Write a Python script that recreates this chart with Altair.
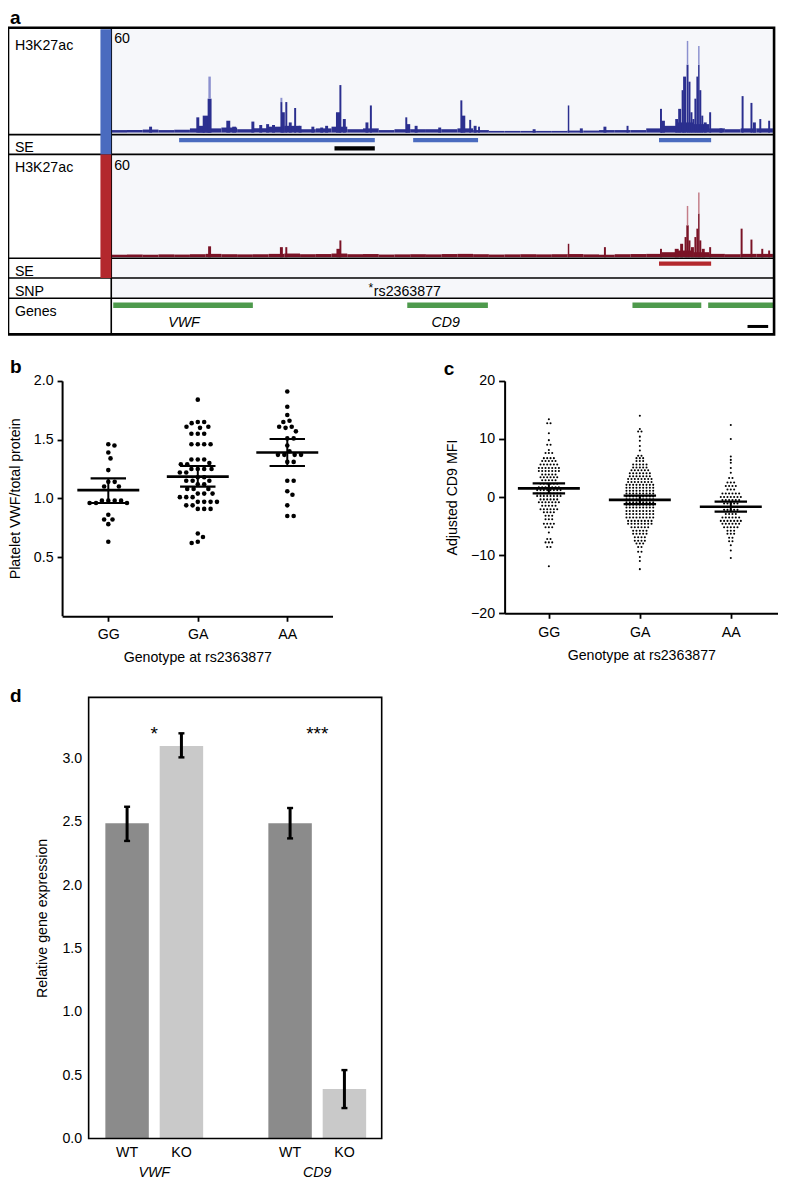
import altair as alt
import pandas as pd

# ---------------- layout helpers (reference pixels -> view pixels) ----------------
W, H = 770, 1172
SX = W / 783.0
SY = H / 1185.0


def X(rx):
    return (rx - 3.0) * SX


def Y(ry):
    return (ry - 5.0) * SY


FONT = "Liberation Sans"
FS = 14.2

# ================= panel a : data =================
TRACK_LEN = 674
BG_STEP = 16
BLUE_BG = [1.5, 1.6, 1.8, 1.5, 1.7, 2.5, 2.5, 3.0, 2.0, 2.5, 3.5, 4.0, 2.0, 2.5, 3.5,
           2.0, 2.5, 1.5, 2.0, 2.0, 2.0, 2.0, 2.5, 1.5, 1.0, 1.0, 1.0, 1.0, 1.0, 1.2,
           1.2, 1.5, 1.5, 1.5, 2.5, 4.0, 6.0, 5.0, 2.5, 2.0, 2.5, 2.5, 2.5]
RED_BG = [1.5, 1.6, 1.5, 1.7, 1.6, 1.8, 2.0, 1.8, 1.7, 1.8, 2.0, 2.2, 1.8, 1.9, 2.2,
          1.8, 1.9, 1.6, 1.7, 1.8, 1.7, 1.9, 2.0, 1.8, 1.6, 1.7, 1.8, 1.7, 1.8, 1.9,
          1.7, 1.5, 1.8, 1.9, 2.0, 3.0, 4.0, 3.0, 2.0, 1.8, 2.0, 2.0, 2.0]

BLUE_PEAK_POS = [40, 88, 92, 97, 100, 119, 125, 144, 152, 159, 165, 173, 175, 178, 182,
                 187, 192, 205, 214, 219, 231, 233, 237, 260, 264, 300, 302, 310, 334, 356,
                 358, 365, 370, 374, 430, 465, 478, 502, 525, 559, 561, 575, 578, 581, 583,
                 586, 588, 590, 592, 594, 596, 597.5, 599, 601, 604, 609, 620, 642, 651, 654,
                 660, 669]
BLUE_PEAK_H = [3.5, 9, 4, 10, 20, 7, 3.5, 6.5, 4.5, 5, 4.5, 18, 12, 18, 6,
               14.5, 4, 3.5, 3, 4, 12, 28, 8, 6, 16, 9, 5, 4, 3, 19,
               10, 7.5, 4, 3.5, 2, 16, 2.5, 3.5, 4, 14, 7, 8, 14, 25, 33,
               40, 30, 12, 8, 20, 33, 40, 25, 10, 6, 12, 2.5, 21.5, 17.5, 6,
               8, 7]
BLUE_PEAK_SPAN = [3, 3, 6, 8, 4, 4, 4, 3, 3, 3, 3, 2, 3, 2, 3,
                  2, 3, 3, 3, 3, 5, 2, 3, 3, 2, 2, 4, 3, 3, 2,
                  4, 2, 3, 2, 3, 1.5, 3, 3, 2, 2, 4, 3, 3, 2, 3,
                  2, 2, 2, 2, 2, 2, 1.5, 2, 2, 3, 2, 3, 2, 2, 3,
                  2, 2]
BLUE_CAP_POS = [100, 173, 586, 597.5]
BLUE_CAP_LO = [20, 18, 40, 40]
BLUE_CAP_HI = [33, 20.5, 54, 51]
BLUE_CAP_SPAN = [2.5, 2, 1.5, 1.5]

RED_PEAK_POS = [100, 173, 178, 231, 233, 465, 502, 559, 575, 580, 584, 586, 588, 591, 594,
                596, 597.5, 599, 602, 609, 641, 651, 662, 669]
RED_PEAK_H = [6.5, 6, 6, 5, 10, 8, 6, 5, 5, 8, 12, 19, 10, 6, 12,
              17, 26, 10, 5, 6, 17, 10.5, 5, 4]
RED_PEAK_SPAN = [3, 3, 2, 4, 2, 1.5, 2, 2, 4, 3, 2, 2.5, 2, 3, 2,
                 2, 1.5, 2, 3, 2, 2, 2, 2, 2]
RED_CAP_POS = [586, 597.5]
RED_CAP_LO = [19, 26]
RED_CAP_HI = [30.5, 38.5]
RED_CAP_SPAN = [1.5, 1.5]

SE_BLUE_START = [69, 307, 557]
SE_BLUE_END = [268, 373, 610]
SE_BLACK_START = [227]
SE_BLACK_END = [268]
SE_RED_START = [557]
SE_RED_END = [610]
GENE_START = [2, 301, 530, 607]
GENE_END = [144, 383, 600, 674]
GENE_LABELS = ["VWF", "CD9"]
GENE_LABEL_POS = [74, 340]
SNP_POS = [264]
SNP_ID = ["rs2363877"]
SCALE_BAR_START = [647]
SCALE_BAR_END = [668]

# ================= panel b : data =================
B_GROUPS = ["GG", "GA", "AA"]
B_GG = [1.46, 1.45, 1.39, 1.34, 1.24, 1.14, 1.14, 1.10, 1.10, 0.98, 0.98, 0.98, 0.98,
        0.96, 0.96, 0.96, 0.86, 0.82, 0.82, 0.78, 0.63]
B_GA = [1.84, 1.65, 1.65, 1.64, 1.61, 1.61, 1.60, 1.55, 1.55, 1.55, 1.46, 1.46, 1.46, 1.46,
        1.33, 1.33, 1.33, 1.30, 1.29, 1.29, 1.25, 1.25, 1.25, 1.25, 1.22, 1.22, 1.18, 1.18,
        1.15, 1.15, 1.15, 1.12, 1.12, 1.08, 1.08, 1.08, 1.04, 1.04, 1.04, 1.01, 1.01, 1.01,
        0.97, 0.97, 0.97, 0.97, 0.94, 0.94, 0.91, 0.91, 0.91, 0.70, 0.67, 0.63, 0.62]
B_AA = [1.91, 1.78, 1.71, 1.66, 1.65, 1.61, 1.61, 1.60, 1.57, 1.51, 1.51, 1.45, 1.40,
        1.37, 1.37, 1.37, 1.37, 1.31, 1.31, 1.15, 1.15, 1.06, 1.03, 0.94, 0.85, 0.85]
B_MEAN = [1.07, 1.185, 1.39]
B_SEM_LO = [0.96, 1.10, 1.275]
B_SEM_HI = [1.17, 1.275, 1.505]

# ================= panel c : data (dot rows: value, number of dots) =================
C_GG_ROWS = [13.4, 12.7, 11.0, 9.8, 9.0, 8.1, 7.6, 6.7, 6.2, 5.6, 5.0, 4.5, 3.9, 3.4, 2.9,
             2.3, 1.7, 1.2, 0.6, 0.2, -0.4, -0.9, -1.5, -2.1, -2.6, -3.2, -3.8, -4.6, -5.2,
             -6.1, -7.2, -7.8, -8.6, -11.9]
C_GG_COUNTS = [1, 2, 1, 1, 2, 1, 3, 4, 5, 6, 7, 7, 5, 6, 5, 6, 7, 8, 8, 8, 6, 7, 5, 6, 4,
               3, 3, 4, 3, 1, 2, 3, 2, 1]
C_GA_ROWS = [14.0, 11.7, 11.3, 10.4, 9.7, 8.8, 8.0, 7.1, 6.7, 6.2, 5.6, 5.1, 4.6, 4.1, 3.6,
             3.1, 2.6, 2.1, 1.6, 1.1, 0.6, 0.1, -0.4, -0.9, -1.3, -1.8, -2.4, -2.9, -3.5,
             -4.1, -4.6, -5.2, -5.8, -6.3, -6.9, -7.5, -8.0, -8.6, -9.4, -10.3, -11.0, -12.4]
C_GA_COUNTS = [1, 1, 2, 1, 1, 1, 1, 2, 3, 3, 5, 5, 6, 7, 7, 8, 8, 9, 9, 9, 9, 9, 9, 9,
               9, 9, 9, 9, 9, 8, 8, 6, 5, 5, 4, 4, 3, 2, 2, 1, 1, 1]
C_AA_ROWS = [12.4, 10.0, 7.0, 6.4, 5.9, 5.0, 4.2, 3.3, 2.5, 1.9, 1.3, 0.6, 0.0, -0.5, -1.1,
             -1.7, -2.2, -2.9, -3.5, -4.1, -4.6, -5.2, -5.8, -6.3, -7.0, -7.6, -8.3, -9.2, -10.5]
C_AA_COUNTS = [1, 1, 1, 1, 1, 1, 1, 2, 3, 4, 3, 6, 7, 6, 5, 4, 5, 4, 6, 7, 6, 5, 3, 3, 2, 2,
               1, 1, 1]
C_MEAN = [1.5, -0.48, -1.67]
C_SEM_LO = [0.65, -1.2, -2.5]
C_SEM_HI = [2.35, 0.25, -0.77]

# ================= panel d : data =================
D_SLOTS = ["VWF_WT", "VWF_KO", "gap_", "CD9_WT", "CD9_KO"]
D_BAR_SLOT = ["VWF_WT", "VWF_KO", "CD9_WT", "CD9_KO"]
D_BAR_GROUP = ["WT", "KO", "WT", "KO"]
D_MEAN = [2.49, 3.10, 2.49, 0.39]
D_ERR_LO = [2.35, 3.01, 2.37, 0.24]
D_ERR_HI = [2.62, 3.20, 2.61, 0.54]
D_GENES = ["VWF", "CD9"]
D_GENE_SLOT = ["VWF_WT", "CD9_WT"]
D_STARS = ["*", "***"]
D_STAR_Y = 3.15

# ---------------- colours ----------------
BLUE_SIG = "#2b2f8f"
BLUE_LIGHT = "#8c91cf"
RED_SIG = "#7a1326"
RED_LIGHT = "#c47d88"
BLUE_BAR = "#4a6bbf"
RED_BAR = "#b3282d"
GREEN = "#4e9a4c"
TRACK_BG = "#f6f7fa"

layers = []


# ---------------- generic helpers ----------------
def px_rects(rows, **mark):
    df = pd.DataFrame(rows, columns=["x", "x2", "y", "y2"])
    return alt.Chart(df).mark_rect(**mark).encode(
        x=alt.X("x:Q", scale=None, axis=None), x2="x2:Q",
        y=alt.Y("y:Q", scale=None, axis=None), y2="y2:Q")


def px_rules(rows, **mark):
    df = pd.DataFrame(rows, columns=["x", "x2", "y", "y2"])
    return alt.Chart(df).mark_rule(**mark).encode(
        x=alt.X("x:Q", scale=None, axis=None), x2="x2:Q",
        y=alt.Y("y:Q", scale=None, axis=None), y2="y2:Q")


def px_texts(rows, **mark):
    df = pd.DataFrame(rows, columns=["x", "y", "t"])
    return alt.Chart(df).mark_text(**mark).encode(
        x=alt.X("x:Q", scale=None, axis=None),
        y=alt.Y("y:Q", scale=None, axis=None), text="t:N")


def tx():
    return alt.Scale(domain=[0, TRACK_LEN], range=[X(108), X(782)], nice=False, zero=False)


def ty(top, base):
    return alt.Scale(domain=[0, 60], range=[Y(base), Y(top)], nice=False, zero=False)


def signal(starts, ends, lows, highs, color, yscale):
    df = pd.DataFrame({"s": starts, "e": ends, "lo": lows, "hi": highs})
    return alt.Chart(df).mark_rect(color=color).encode(
        x=alt.X("s:Q", scale=tx(), axis=None), x2="e:Q",
        y=alt.Y("hi:Q", scale=yscale, axis=None), y2="lo:Q")


def background(values, color, yscale):
    s = [i * BG_STEP for i in range(len(values))]
    e = [min((i + 1) * BG_STEP, TRACK_LEN) for i in range(len(values))]
    return signal(s, e, [0] * len(values), values, color, yscale)


def peaks(pos, h, span, color, yscale, lo=None):
    s = [p - w / 2.0 for p, w in zip(pos, span)]
    e = [p + w / 2.0 for p, w in zip(pos, span)]
    return signal(s, e, lo if lo is not None else [0] * len(pos), h, color, yscale)


def track_rule(starts, ends, yref, color, width):
    df = pd.DataFrame({"s": starts, "e": ends})
    return alt.Chart(df).mark_rule(color=color, strokeWidth=width).encode(
        x=alt.X("s:Q", scale=tx(), axis=None), x2="e:Q", y=alt.value(Y(yref)))


# ================= panel a =================
layers.append(px_rects([(X(108), X(782), Y(26), Y(298))], color=TRACK_BG))

bys = ty(28, 131)
rys = ty(155, 257)
layers.append(background(BLUE_BG, BLUE_SIG, bys))
layers.append(peaks(BLUE_PEAK_POS, BLUE_PEAK_H, BLUE_PEAK_SPAN, BLUE_SIG, bys))
layers.append(peaks(BLUE_CAP_POS, BLUE_CAP_HI, BLUE_CAP_SPAN, BLUE_LIGHT, bys, lo=BLUE_CAP_LO))
layers.append(background(RED_BG, RED_SIG, rys))
layers.append(peaks(RED_PEAK_POS, RED_PEAK_H, RED_PEAK_SPAN, RED_SIG, rys))
layers.append(peaks(RED_CAP_POS, RED_CAP_HI, RED_CAP_SPAN, RED_LIGHT, rys, lo=RED_CAP_LO))

layers.append(track_rule(SE_BLUE_START, SE_BLUE_END, 138.5, BLUE_BAR, 4.2))
layers.append(track_rule(SE_BLACK_START, SE_BLACK_END, 147, "black", 4.2))
layers.append(track_rule(SE_RED_START, SE_RED_END, 263.5, RED_BAR, 4.2))
layers.append(track_rule(GENE_START, GENE_END, 305.5, GREEN, 5.5))
layers.append(track_rule(SCALE_BAR_START, SCALE_BAR_END, 327, "black", 3))

gl = pd.DataFrame({"p": GENE_LABEL_POS, "t": GENE_LABELS})
layers.append(alt.Chart(gl).mark_text(font=FONT, fontSize=FS, fontStyle="italic", baseline="alphabetic").encode(
    x=alt.X("p:Q", scale=tx(), axis=None), y=alt.value(Y(327.7)), text="t:N"))
snp = pd.DataFrame({"p": SNP_POS, "t": SNP_ID})
layers.append(alt.Chart(snp).mark_text(font=FONT, fontSize=12, baseline="alphabetic", text="*").encode(
    x=alt.X("p:Q", scale=tx(), axis=None), y=alt.value(Y(292))))
layers.append(alt.Chart(snp).mark_text(font=FONT, fontSize=FS, baseline="alphabetic", align="left", dx=3).encode(
    x=alt.X("p:Q", scale=tx(), axis=None), y=alt.value(Y(295.7)), text="t:N"))

lines = [(X(3), X(782), Y(yy), Y(yy)) for yy in (133, 153, 258, 278, 298.5)]
lines.append((X(108), X(108), Y(25), Y(335)))
layers.append(px_rules(lines, color="black", strokeWidth=1.6))
layers.append(px_rects([(X(97), X(108), Y(26.5), Y(153))], color=BLUE_BAR))
layers.append(px_rects([(X(97), X(108), Y(153), Y(278))], color=RED_BAR))
layers.append(px_rects([(X(3), X(782), Y(25), Y(335))], fillOpacity=0, stroke="black", strokeWidth=2.6))

a_labels = [(X(10), Y(47), "H3K27ac"), (X(10), Y(150.7), "SE"), (X(10), Y(171), "H3K27ac"),
            (X(10), Y(276), "SE"), (X(10), Y(296.7), "SNP"), (X(10), Y(316.7), "Genes")]
layers.append(px_texts(a_labels, font=FONT, fontSize=FS, align="left", baseline="alphabetic", color="black"))
layers.append(px_texts([(X(111), Y(40.7), "60"), (X(111), Y(168.3), "60")],
                       font=FONT, fontSize=FS, align="left", baseline="alphabetic", color="black"))


# ================= panel b =================
def swarm(values, ypx, d, step=0.25):
    placed = []
    offs = [0.0] * len(values)
    order = sorted(range(len(values)), key=lambda i: -values[i])
    for i in order:
        yv = values[i] * ypx
        k = 0
        while True:
            cands = [0.0] if k == 0 else [k * step, -k * step]
            hit = None
            for c in cands:
                if all((c - px) ** 2 + (yv - py) ** 2 >= d * d for px, py in placed):
                    hit = c
                    break
            if hit is not None:
                offs[i] = hit
                placed.append((hit, yv))
                break
            k += 1
    return offs


AXIS_COMMON = dict(grid=False, domainWidth=2, tickWidth=1.8, domainColor="black", tickColor="black",
                   labelFont=FONT, titleFont=FONT, labelFontSize=FS, titleFontSize=FS,
                   labelColor="black", titleColor="black", titleFontWeight="normal")
GENO_EXPR = "['GG','GA','AA'][datum.value]"


def b_xs():
    return alt.Scale(domain=[(58 - 105) / 91.0, 2 + (333 - 287) / 91.0], range=[X(58), X(333)],
                     nice=False, zero=False)


def b_ys():
    return alt.Scale(domain=[0, 2], range=[Y(619.5), Y(382)], nice=False, zero=False)


b_rows = []
for gi, vals in enumerate([B_GG, B_GA, B_AA]):
    offs = swarm(vals, 118.7, 6.3)
    for v, o in zip(vals, offs):
        b_rows.append({"x": gi + o / 91.0, "v": v})

layers.append(alt.Chart(pd.DataFrame(b_rows)).mark_circle(size=21, color="black", opacity=1).encode(
    x=alt.X("x:Q", scale=b_xs(), axis=alt.Axis(
        orient="bottom", offset=Y(620) - H, values=[0, 1, 2], labelExpr=GENO_EXPR,
        title="Genotype at rs2363877", tickSize=5, labelPadding=6, titlePadding=9, **AXIS_COMMON)),
    y=alt.Y("v:Q", scale=b_ys(), axis=alt.Axis(
        orient="left", offset=-X(58), values=[0.5, 1.0, 1.5, 2.0], format=".1f",
        title="Platelet VWF/total protein", tickSize=5, labelPadding=4, titlePadding=11, **AXIS_COMMON))))


def stat_layers(means, los, his, xs, ys, half_mean, half_sem):
    df = pd.DataFrame({"g": [0, 1, 2], "m": means, "lo": los, "hi": his})
    df["ml"] = df["g"] - half_mean
    df["mr"] = df["g"] + half_mean
    df["sl"] = df["g"] - half_sem
    df["sr"] = df["g"] + half_sem
    out = []
    base = alt.Chart(df)
    out.append(base.mark_rule(color="black", strokeWidth=2.6).encode(
        x=alt.X("ml:Q", scale=xs(), axis=None), x2="mr:Q", y=alt.Y("m:Q", scale=ys(), axis=None)))
    for f in ("lo", "hi"):
        out.append(base.mark_rule(color="black", strokeWidth=2.2).encode(
            x=alt.X("sl:Q", scale=xs(), axis=None), x2="sr:Q", y=alt.Y(f + ":Q", scale=ys(), axis=None)))
    out.append(base.mark_rule(color="black", strokeWidth=2.0).encode(
        x=alt.X("g:Q", scale=xs(), axis=None), y=alt.Y("lo:Q", scale=ys(), axis=None), y2="hi:Q"))
    return out


layers.extend(stat_layers(B_MEAN, B_SEM_LO, B_SEM_HI, b_xs, b_ys, 31.5 / 91.0, 18.0 / 91.0))


# ================= panel c =================
def c_xs():
    return alt.Scale(domain=[(508 - 553) / 92.5, 2 + (786 - 738) / 92.5], range=[X(508), X(786)],
                     nice=False, zero=False)


def c_ys():
    return alt.Scale(domain=[-20, 20], range=[Y(617), Y(382)], nice=False, zero=False)


c_rows = []
for gi, (rows, counts) in enumerate([(C_GG_ROWS, C_GG_COUNTS), (C_GA_ROWS, C_GA_COUNTS),
                                      (C_AA_ROWS, C_AA_COUNTS)]):
    for v, n in zip(rows, counts):
        for j in range(n):
            c_rows.append({"x": gi + (j - (n - 1) / 2.0) * 3.4 / 92.5, "v": v})

layers.append(alt.Chart(pd.DataFrame(c_rows)).mark_circle(size=4.2, color="black", opacity=1).encode(
    x=alt.X("x:Q", scale=c_xs(), axis=alt.Axis(
        orient="bottom", offset=Y(617) - H, values=[0, 1, 2], labelExpr=GENO_EXPR,
        title="Genotype at rs2363877", tickSize=5, labelPadding=7, titlePadding=9, **AXIS_COMMON)),
    y=alt.Y("v:Q", scale=c_ys(), axis=alt.Axis(
        orient="left", offset=-X(508), values=[-20, -10, 0, 10, 20], format="d",
        title="Adjusted CD9 MFI", tickSize=6, labelPadding=4, titlePadding=11, **AXIS_COMMON))))

layers.extend(stat_layers(C_MEAN, C_SEM_LO, C_SEM_HI, c_xs, c_ys, 31.5 / 92.5, 16.5 / 92.5))


# ================= panel d =================
def d_xs():
    return alt.Scale(type="band", domain=D_SLOTS, range=[X(102), X(367.2)], paddingInner=0.2,
                     paddingOuter=0)


def d_ys():
    return alt.Scale(domain=[0, 3.484], range=[Y(1148), Y(702)], nice=False, zero=False)


d_df = pd.DataFrame({"slot": D_BAR_SLOT, "grp": D_BAR_GROUP, "m": D_MEAN,
                     "lo": D_ERR_LO, "hi": D_ERR_HI})
layers.append(alt.Chart(d_df).mark_bar().encode(
    x=alt.X("slot:N", scale=d_xs(), sort=D_SLOTS, axis=alt.Axis(
        orient="bottom", offset=Y(1148) - H, ticks=False, domain=False, labelAngle=0,
        labelExpr="split(datum.value, '_')[1]", labelPadding=7, title=None, **AXIS_COMMON)),
    y=alt.Y("m:Q", scale=d_ys(), axis=alt.Axis(
        orient="left", offset=-X(85), values=[0, 0.5, 1.0, 1.5, 2.0, 2.5, 3.0], format=".1f",
        ticks=False, domain=False, labelPadding=7, title="Relative gene expression",
        titlePadding=12, **AXIS_COMMON)),
    color=alt.Color("grp:N", scale=alt.Scale(domain=["WT", "KO"], range=["#8b8b8b", "#c9c9c9"]),
                    legend=None)))
layers.append(alt.Chart(d_df).mark_rule(color="black", strokeWidth=3).encode(
    x=alt.X("slot:N", scale=d_xs(), bandPosition=0.5, axis=None),
    y=alt.Y("lo:Q", scale=d_ys(), axis=None), y2="hi:Q"))
caps = pd.DataFrame({"slot": D_BAR_SLOT * 2, "c": D_ERR_LO + D_ERR_HI})
layers.append(alt.Chart(caps).mark_tick(color="black", thickness=2.4, size=6, opacity=1).encode(
    x=alt.X("slot:N", scale=d_xs(), bandPosition=0.5, axis=None),
    y=alt.Y("c:Q", scale=d_ys(), axis=None)))
half_step = 55.25 / 2.0 * SX
stars = pd.DataFrame({"slot": D_GENE_SLOT, "t": D_STARS, "y": [D_STAR_Y, D_STAR_Y]})
layers.append(alt.Chart(stars).mark_text(font=FONT, fontSize=19, baseline="alphabetic", dx=half_step,
                                         color="black").encode(
    x=alt.X("slot:N", scale=d_xs(), bandPosition=0.5, axis=None),
    y=alt.Y("y:Q", scale=d_ys(), axis=None), text="t:N"))
dg = pd.DataFrame({"slot": D_GENE_SLOT, "t": D_GENES})
layers.append(alt.Chart(dg).mark_text(font=FONT, fontSize=FS, fontStyle="italic", baseline="alphabetic",
                                      dx=half_step, color="black").encode(
    x=alt.X("slot:N", scale=d_xs(), bandPosition=0.5, axis=None),
    y=alt.value(Y(1187)), text="t:N"))
layers.append(px_rects([(X(85), X(383), Y(702), Y(1148))], fillOpacity=0, stroke="black",
                       strokeWidth=1.6))

# ================= panel letters =================
layers.append(px_texts([(X(5), Y(21), "a"), (X(5), Y(374), "b"), (X(446), Y(376), "c"),
                        (X(5), Y(707), "d")],
                       font=FONT, fontSize=19, fontWeight="bold", align="left",
                       baseline="alphabetic", color="black"))

chart = alt.layer(*layers).resolve_scale(
    x="independent", y="independent", color="independent"
).properties(
    width=W, height=H, padding=0, autosize=alt.AutoSizeParams(type="none")
).configure_view(strokeWidth=0)

chart.save("out.html", embed_options={"renderer": "svg", "actions": False})
